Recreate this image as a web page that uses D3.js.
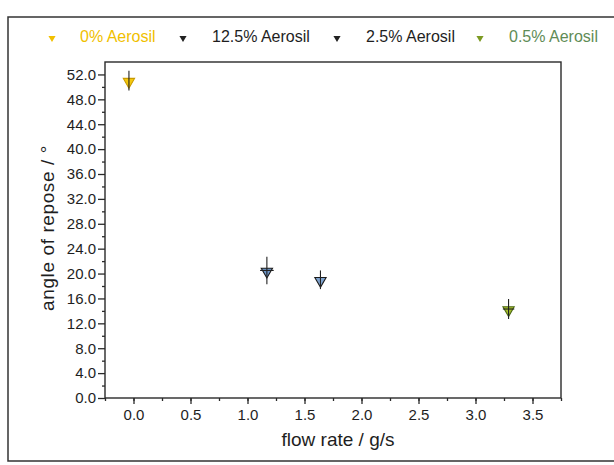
<!DOCTYPE html>
<html>
<head>
<meta charset="utf-8">
<script src="https://cdn.jsdelivr.net/npm/d3@7"></script>
<style>
	body { margin: 0; background: #fff; }
	text { font-family: "Liberation Sans", Arial, sans-serif; fill: #1e1e1e; }
	.axis path, .axis line { stroke: #2a2a2a; stroke-width: 1.3; }
	.axis text { font-size: 15px; }
</style>
</head>
<body>
<svg class="chart" width="614" height="465"></svg>
<script>
// data
var series = ["0% Aerosil", "12.5% Aerosil", "2.5% Aerosil", "0.5% Aerosil"];
var flowRate = [-0.04, 1.17, 1.64, 3.29];
var flowErr = [0, 0.06, 0, 0.05];
var angle = [51.0, 20.5, 19.0, 14.3];
var angleErr = [1.6, 2.2, 1.5, 1.6];
var xTicks = [0.0, 0.5, 1.0, 1.5, 2.0, 2.5, 3.0, 3.5];
var yTicks = [0, 4, 8, 12, 16, 20, 24, 28, 32, 36, 40, 44, 48, 52];

// styles
var markFill = ["#f4c80c", "#6f97c9", "#7ea3cf", "#a6bf2c"];
var markStroke = ["#c99a00", "#1b1b1b", "#1b1b1b", "#4d6a14"];
var legendMark = ["#f2c000", "#222", "#222", "#7c9a22"];
var legendText = ["#f0c000", "#1e1e1e", "#1e1e1e", "#5f8c56"];
var legendX = [52, 183, 337, 480];

var plotL = 105, plotR = 561, plotT = 62, plotB = 398;

var svg = d3.select(".chart");

// outer frame of the figure
svg.append("path")
	.attr("d", "M620,17H8V461H620")
	.attr("fill", "none")
	.attr("stroke", "#333")
	.attr("stroke-width", 1.5);

var x = d3.scaleLinear()
	.domain([-0.25, 3.75])
	.range([plotL, plotR]);

var y = d3.scaleLinear()
	.domain([0, 54])
	.range([plotB, plotT]);

// minor ticks first so majors draw over them
svg.append("g")
	.attr("class", "axis")
	.attr("transform", "translate(0," + plotB + ")")
	.call(d3.axisBottom(x).tickValues(d3.range(-0.25, 3.76, 0.25)).tickSize(3).tickFormat(""))
	.select(".domain").remove();

svg.append("g")
	.attr("class", "axis")
	.attr("transform", "translate(" + plotL + ",0)")
	.call(d3.axisLeft(y).tickValues(d3.range(2, 54, 4)).tickSize(3).tickFormat(""))
	.select(".domain").remove();

svg.append("g")
	.attr("class", "axis")
	.attr("transform", "translate(0," + plotB + ")")
	.call(d3.axisBottom(x).tickValues(xTicks).tickSize(6).tickPadding(5).tickSizeOuter(0).tickFormat(d3.format(".1f")))
	.select(".domain").remove();

svg.append("g")
	.attr("class", "axis")
	.attr("transform", "translate(" + plotL + ",0)")
	.call(d3.axisLeft(y).tickValues(yTicks).tickSize(7).tickPadding(2).tickSizeOuter(0).tickFormat(d3.format(".1f")))
	.select(".domain").remove();

// plot box
svg.append("rect")
	.attr("x", plotL)
	.attr("y", plotT)
	.attr("width", plotR - plotL)
	.attr("height", plotB - plotT)
	.attr("fill", "none")
	.attr("stroke", "#2a2a2a")
	.attr("stroke-width", 1.4);

// axis titles
svg.append("text")
	.attr("x", 338)
	.attr("y", 446)
	.attr("text-anchor", "middle")
	.style("font-size", "19px")
	.text("flow rate / g/s");

svg.append("text")
	.attr("transform", "translate(54,228) rotate(-90)")
	.attr("text-anchor", "middle")
	.style("font-size", "19px")
	.style("letter-spacing", "0.6px")
	.text("angle of repose / \u00b0");

// points, error bars drawn on top of the markers
var pt = svg.selectAll(".pt")
	.data(series)
  .enter().append("g")
	.attr("class", "pt");

pt.append("path")
	.attr("d", d3.symbol(d3.symbolTriangle, 55))
	.attr("transform", function(d, i) { return "translate(" + x(flowRate[i]) + "," + (y(angle[i]) + 1) + ") rotate(180)"; })
	.attr("fill", function(d, i) { return markFill[i]; })
	.attr("stroke", function(d, i) { return markStroke[i]; })
	.attr("stroke-width", 1.1);

pt.append("line")
	.attr("x1", function(d, i) { return x(flowRate[i]); })
	.attr("x2", function(d, i) { return x(flowRate[i]); })
	.attr("y1", function(d, i) { return y(angle[i] + angleErr[i]); })
	.attr("y2", function(d, i) { return y(angle[i] - angleErr[i]); })
	.attr("stroke", "#222")
	.attr("stroke-width", 1.1);

pt.filter(function(d, i) { return flowErr[i] > 0; })
	.append("line")
	.attr("x1", function(d) { var i = series.indexOf(d); return x(flowRate[i] - flowErr[i]); })
	.attr("x2", function(d) { var i = series.indexOf(d); return x(flowRate[i] + flowErr[i]); })
	.attr("y1", function(d) { return y(angle[series.indexOf(d)]); })
	.attr("y2", function(d) { return y(angle[series.indexOf(d)]); })
	.attr("stroke", "#222")
	.attr("stroke-width", 1.1);

// legend
var leg = svg.selectAll(".leg")
	.data(series)
  .enter().append("g")
	.attr("class", "leg")
	.attr("transform", function(d, i) { return "translate(" + legendX[i] + ",37)"; });

leg.append("path")
	.attr("d", d3.symbol(d3.symbolTriangle, 22))
	.attr("transform", "translate(0,1) rotate(180)")
	.attr("fill", function(d, i) { return legendMark[i]; });

leg.append("text")
	.attr("x", function(d, i) { return i == 0 ? 28 : 29; })
	.attr("y", 5)
	.style("font-size", "16px")
	.style("fill", function(d, i) { return legendText[i]; })
	.text(function(d) { return d; });
</script>
</body>
</html>
